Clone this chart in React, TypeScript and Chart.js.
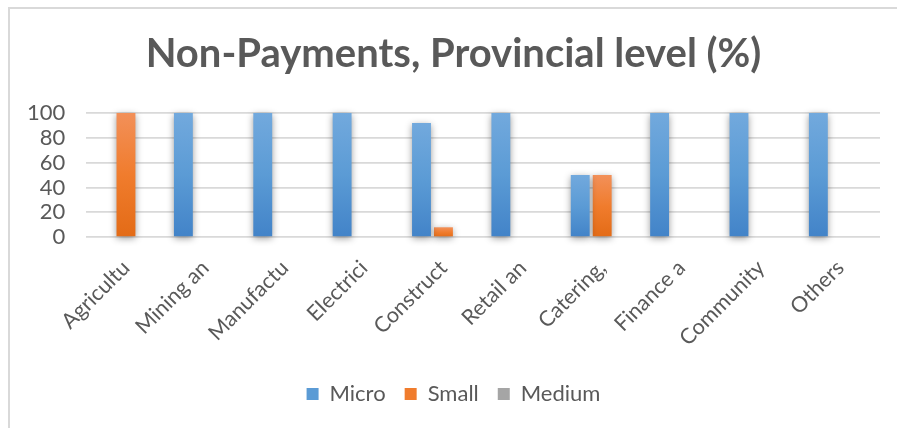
import React, { useEffect, useRef } from "react";
import { Chart, registerables } from "chart.js";

Chart.register(...registerables);

const categories = ["Agricultu", "Mining an", "Manufactu", "Electrici", "Construct", "Retail an", "Catering,", "Finance a", "Community", "Others"];
const seriesNames = ["Micro", "Small", "Medium"];
const micro = [0, 100, 100, 100, 92, 100, 50, 100, 100, 100];
const small = [100, 0, 0, 0, 8, 0, 50, 0, 0, 0];
const medium = [0, 0, 0, 0, 0, 0, 0, 0, 0, 0];
const yTicks = [0, 20, 40, 60, 80, 100];

const palettes = [
  { top: "#72a9dd", mid: "#5b9bd5", bottom: "#4283c8" },
  { top: "#f29059", mid: "#f07c2d", bottom: "#e36b16" },
  { top: "#b4b4b4", mid: "#a5a5a5", bottom: "#959595" },
];

const FONT = "Lato, 'Open Sans', sans-serif";

function gradFor(idx: number) {
  const p = palettes[idx];
  return (ctx: any) => {
    const chart = ctx.chart;
    const ys = chart.scales && chart.scales.y;
    if (!chart.chartArea || !ys || ctx.raw == null) return p.mid;
    const top = ys.getPixelForValue(ctx.raw);
    const bottom = ys.getPixelForValue(0);
    if (!isFinite(top) || Math.abs(bottom - top) < 1) return p.mid;
    const g = chart.ctx.createLinearGradient(0, top, 0, bottom);
    g.addColorStop(0, p.top);
    g.addColorStop(0.5, p.mid);
    g.addColorStop(1, p.bottom);
    return g;
  };
}

const shadowPlugin = {
  id: "barShadow",
  beforeDatasetsDraw(chart: any) {
    const c = chart.ctx;
    c.save();
    c.shadowColor = "rgba(0,0,0,0.4)";
    c.shadowBlur = 7;
    c.shadowOffsetX = 0;
    c.shadowOffsetY = 2;
  },
  afterDatasetsDraw(chart: any) {
    chart.ctx.restore();
  },
};

export default function App() {
  const ref = useRef<HTMLCanvasElement | null>(null);
  useEffect(() => {
    if (!ref.current) return;
    const data = [micro, small, medium];
    const chart = new Chart(ref.current, {
      type: "bar",
      data: {
        labels: categories,
        datasets: seriesNames.map((name, i) => ({
          label: name,
          data: data[i],
          backgroundColor: gradFor(i),
          borderWidth: 0,
          categoryPercentage: 0.83,
          barPercentage: 0.86,
          clip: false as any,
        })),
      },
      options: {
        animation: false,
        responsive: false,
        maintainAspectRatio: false,
        layout: { padding: { left: 27, right: 17, top: 22, bottom: 13 } },
        plugins: {
          title: {
            display: true,
            text: "Non-Payments, Provincial level (%)",
            color: "#595959",
            font: { family: FONT, size: 40, weight: "bold" },
            padding: { top: 8, bottom: 35 },
          },
          legend: {
            position: "bottom",
            labels: {
              color: "#595959",
              font: { family: FONT, size: 22 },
              boxWidth: 12,
              boxHeight: 12,
              padding: 19,
              generateLabels: () =>
                seriesNames.map((n, i) => ({
                  text: n,
                  fillStyle: palettes[i].mid,
                  strokeStyle: palettes[i].mid,
                  lineWidth: 0,
                  hidden: false,
                  datasetIndex: i,
                  fontColor: "#595959",
                })),
            },
          },
          tooltip: { enabled: false },
        },
        scales: {
          x: {
            grid: { display: false, drawTicks: false },
            border: { display: false },
            ticks: {
              color: "#595959",
              font: { family: FONT, size: 21.5 },
              minRotation: 45,
              maxRotation: 45,
              autoSkip: false,
              padding: 18,
            },
            afterFit: (s: any) => {
              s.height -= 5;
              s.paddingLeft = 0;
              s.paddingRight = 0;
            },
          },
          y: {
            min: 0,
            max: 100,
            afterBuildTicks: (s: any) => {
              s.ticks = yTicks.map((v) => ({ value: v }));
            },
            afterFit: (s: any) => {
              s.width -= 21;
            },
            grid: { color: "#d9d9d9", lineWidth: 1.8, drawTicks: false },
            border: { display: false },
            ticks: {
              color: "#595959",
              font: { family: FONT, size: 22 },
              padding: 21,
              autoSkip: false,
            },
          },
        },
      },
      plugins: [shadowPlugin],
    });
    return () => chart.destroy();
  }, []);

  return (
    <div style={{ position: "fixed", left: 0, top: 0, width: 897, height: 428, overflow: "hidden", background: "#fff" }}>
      <div
        style={{
          position: "absolute",
          left: 8,
          top: 7,
          width: 900,
          height: 440,
          border: "2px solid #d9d9d9",
          boxSizing: "border-box",
        }}
      />
      <canvas ref={ref} width={897} height={428} style={{ position: "absolute", left: 0, top: 0, width: 897, height: 428 }} />
    </div>
  );
}
